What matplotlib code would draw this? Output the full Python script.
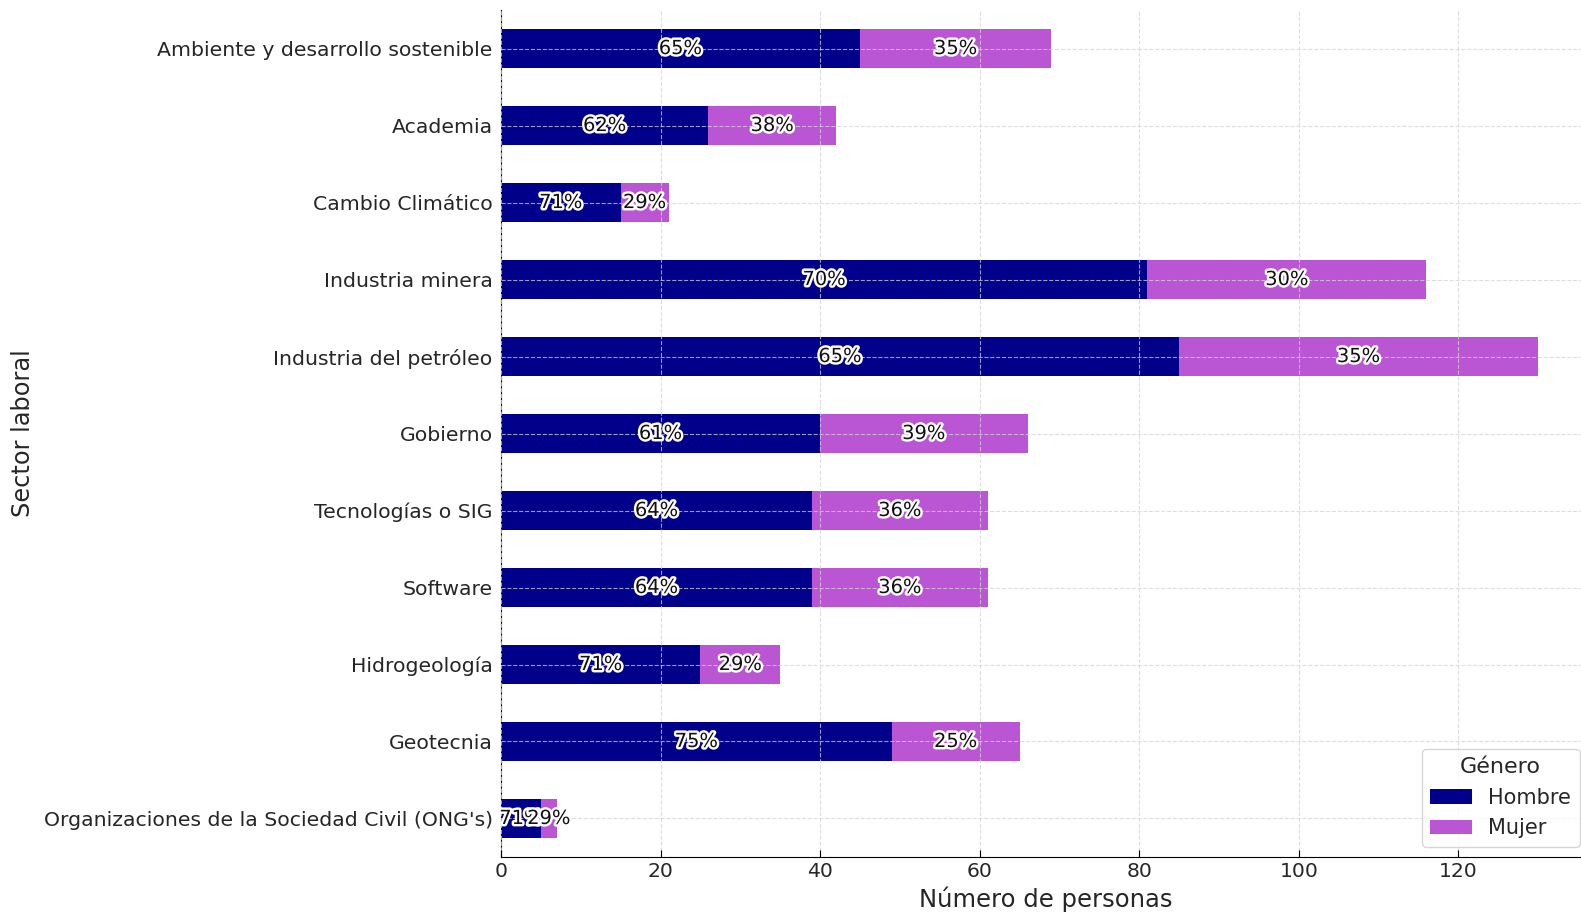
import matplotlib.pyplot as plt
import matplotlib.patheffects as pe
import numpy as np

# Datos: sectores de arriba hacia abajo
sectores = ['Ambiente y desarrollo sostenible', 'Academia', 'Cambio Climático',
            'Industria minera', 'Industria del petróleo', 'Gobierno',
            'Tecnologías o SIG', 'Software', 'Hidrogeología', 'Geotecnia',
            "Organizaciones de la Sociedad Civil (ONG's)"]
hombres = [45, 26, 15, 81, 85, 40, 39, 39, 25, 49, 5]
mujeres = [24, 16, 6, 35, 45, 26, 22, 22, 10, 16, 2]

color_h = '#00008B'
color_m = '#BA55D3'
texto = '#262626'

fig = plt.figure(figsize=(15.81, 9.15), dpi=100)
ax = fig.add_axes([0.3169, 0.0634, 0.6888, 0.9256])

y = np.arange(len(sectores))
h = np.array(hombres)
m = np.array(mujeres)
total = h + m

ax.barh(y, h, height=0.5, color=color_h, label='Hombre')
ax.barh(y, m, left=h, height=0.5, color=color_m, label='Mujer')

# Etiquetas de porcentaje en cada segmento
stroke = [pe.withStroke(linewidth=3.5, foreground='white')]
for i in range(len(sectores)):
    ph = round(100 * h[i] / total[i])
    pm = round(100 * m[i] / total[i])
    ax.text(h[i] / 2, y[i], f'{ph}%', ha='center', va='center', fontsize=14,
            color='#111111', path_effects=stroke)
    ax.text(h[i] + m[i] / 2, y[i], f'{pm}%', ha='center', va='center', fontsize=14,
            color='#111111', path_effects=stroke)

ax.set_yticks(y)
ax.set_yticklabels(sectores)
ax.set_ylim(-0.5, len(sectores) - 0.5)
ax.invert_yaxis()
ax.set_xlim(0, 136.5)
ax.set_xticks([0, 20, 40, 60, 80, 100, 120])

ax.grid(True, linestyle='--', color='#d4d4d4', linewidth=0.8, alpha=0.75)
ax.set_axisbelow(False)

ax.spines['top'].set_visible(False)
ax.spines['right'].set_visible(False)
ax.tick_params(axis='both', direction='in', labelsize=14.7, labelcolor=texto, length=5)
ax.tick_params(axis='y', length=0, pad=6)

ax.set_xlabel('Número de personas', fontsize=17.5, color=texto, labelpad=4)
ax.set_ylabel('Sector laboral', fontsize=17.3, color=texto, labelpad=6)

leg = ax.legend(title='Género', loc='lower right', fontsize=15, title_fontsize=16)
plt.setp(leg.get_texts(), color=texto)
leg.get_title().set_color(texto)

fig.savefig('out.png', dpi=100)
